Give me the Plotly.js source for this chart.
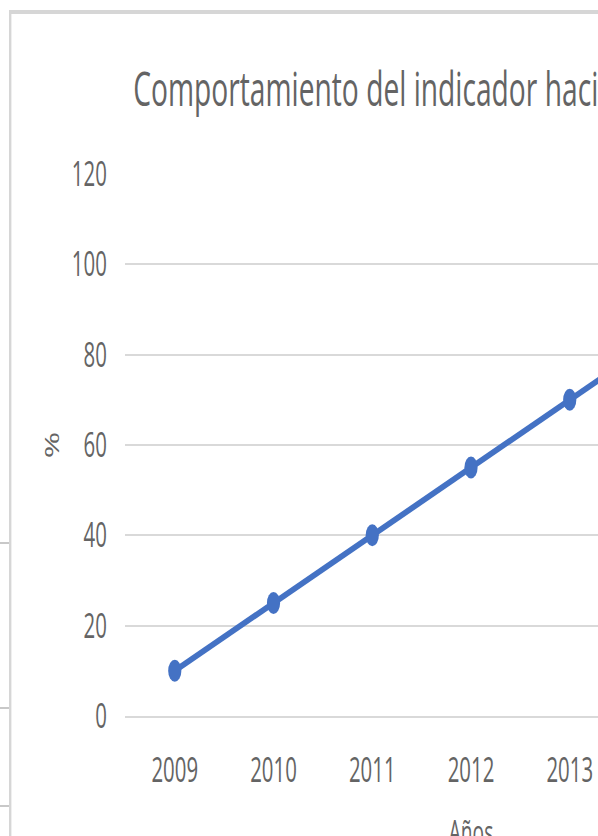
<!DOCTYPE html>
<html>
<head>
<meta charset="utf-8">
<script src="https://cdn.plot.ly/plotly-3.0.1.min.js"></script>
<style>
  html, body { margin: 0; padding: 0; overflow: hidden; background: #ffffff; width: 598px; height: 836px; }
  #chart { width: 1440px; height: 880px; transform: scaleX(0.6); transform-origin: 0 0; }
</style>
</head>
<body>
<div id="chart"></div>
<script>
// Data
const years = ['2009', '2010', '2011', '2012', '2013', '2014', '2015'];
const values = [10, 25, 40, 55, 70, 85, 100];
const yTicks = [0, 20, 40, 60, 80, 100, 120];
const chartTitle = 'Comportamiento del indicador hacia 2015';
const xTitle = 'Años';
const yTitle = '%';

const W = 1440, H = 880;
const mL = 209, mT = 174, plotW = 1152, plotH = 542;
const mR = W - mL - plotW, mB = H - mT - plotH;

const font = '"Open Sans", "Noto Sans", sans-serif';
const grey = '#646464';
const px = v => (v - mL) / plotW;          // unscaled px -> paper x
const py = v => (mT + plotH - v) / plotH;  // px -> paper y

const trace = {
  type: 'scatter',
  mode: 'lines+markers',
  x: years,
  y: values,
  line: { color: '#4472C4', width: 6.5 },
  marker: { color: '#4472C4', size: 22 },
  cliponaxis: true,
  hoverinfo: 'skip'
};

const layout = {
  width: W, height: H,
  margin: { l: mL, r: mR, t: mT, b: mB, pad: 0 },
  paper_bgcolor: '#ffffff',
  plot_bgcolor: '#ffffff',
  showlegend: false,
  font: { family: font, color: grey },
  title: {
    text: chartTitle,
    font: { family: font, size: 47, color: grey },
    xref: 'container', x: 222 / W, xanchor: 'left',
    yref: 'container', y: 1 - 90 / H, yanchor: 'middle'
  },
  xaxis: {
    type: 'category',
    range: [-0.5, years.length - 0.5],
    showgrid: false,
    zeroline: false,
    showline: true,
    linecolor: '#d9d9d9',
    linewidth: 2,
    ticks: '',
    tickfont: { family: font, size: 34, color: grey },
    ticklabelstandoff: 23,
    title: { text: xTitle, font: { family: font, size: 32, color: grey }, standoff: 31 },
    fixedrange: true
  },
  yaxis: {
    range: [0, 120],
    tickvals: yTicks,
    ticktext: yTicks.map(String),
    showgrid: true,
    gridcolor: '#d9d9d9',
    gridwidth: 2,
    zeroline: false,
    showline: false,
    ticks: '',
    tickfont: { family: font, size: 34, color: grey },
    ticklabelstandoff: 30,
    title: { text: yTitle, font: { family: font, size: 32, color: grey }, standoff: 11 },
    fixedrange: true
  },
  shapes: [
    // chart-area border
    { type: 'rect', xref: 'paper', yref: 'paper', layer: 'below',
      x0: px(17), x1: px(W + 50), y0: py(H + 50), y1: py(12),
      line: { color: '#d6d6d6', width: 4 }, fillcolor: 'rgba(0,0,0,0)' },
    // spreadsheet cell lines behind the chart
    { type: 'line', xref: 'paper', yref: 'paper', x0: px(0), x1: px(15), y0: py(543), y1: py(543), line: { color: '#c8c8c8', width: 2 } },
    { type: 'line', xref: 'paper', yref: 'paper', x0: px(0), x1: px(15), y0: py(708), y1: py(708), line: { color: '#c8c8c8', width: 2 } },
    { type: 'line', xref: 'paper', yref: 'paper', x0: px(0), x1: px(15), y0: py(806), y1: py(806), line: { color: '#c8c8c8', width: 2 } }
  ]
};

Plotly.newPlot('chart', [trace], layout, { displayModeBar: false, staticPlot: true });
</script>
</body>
</html>
